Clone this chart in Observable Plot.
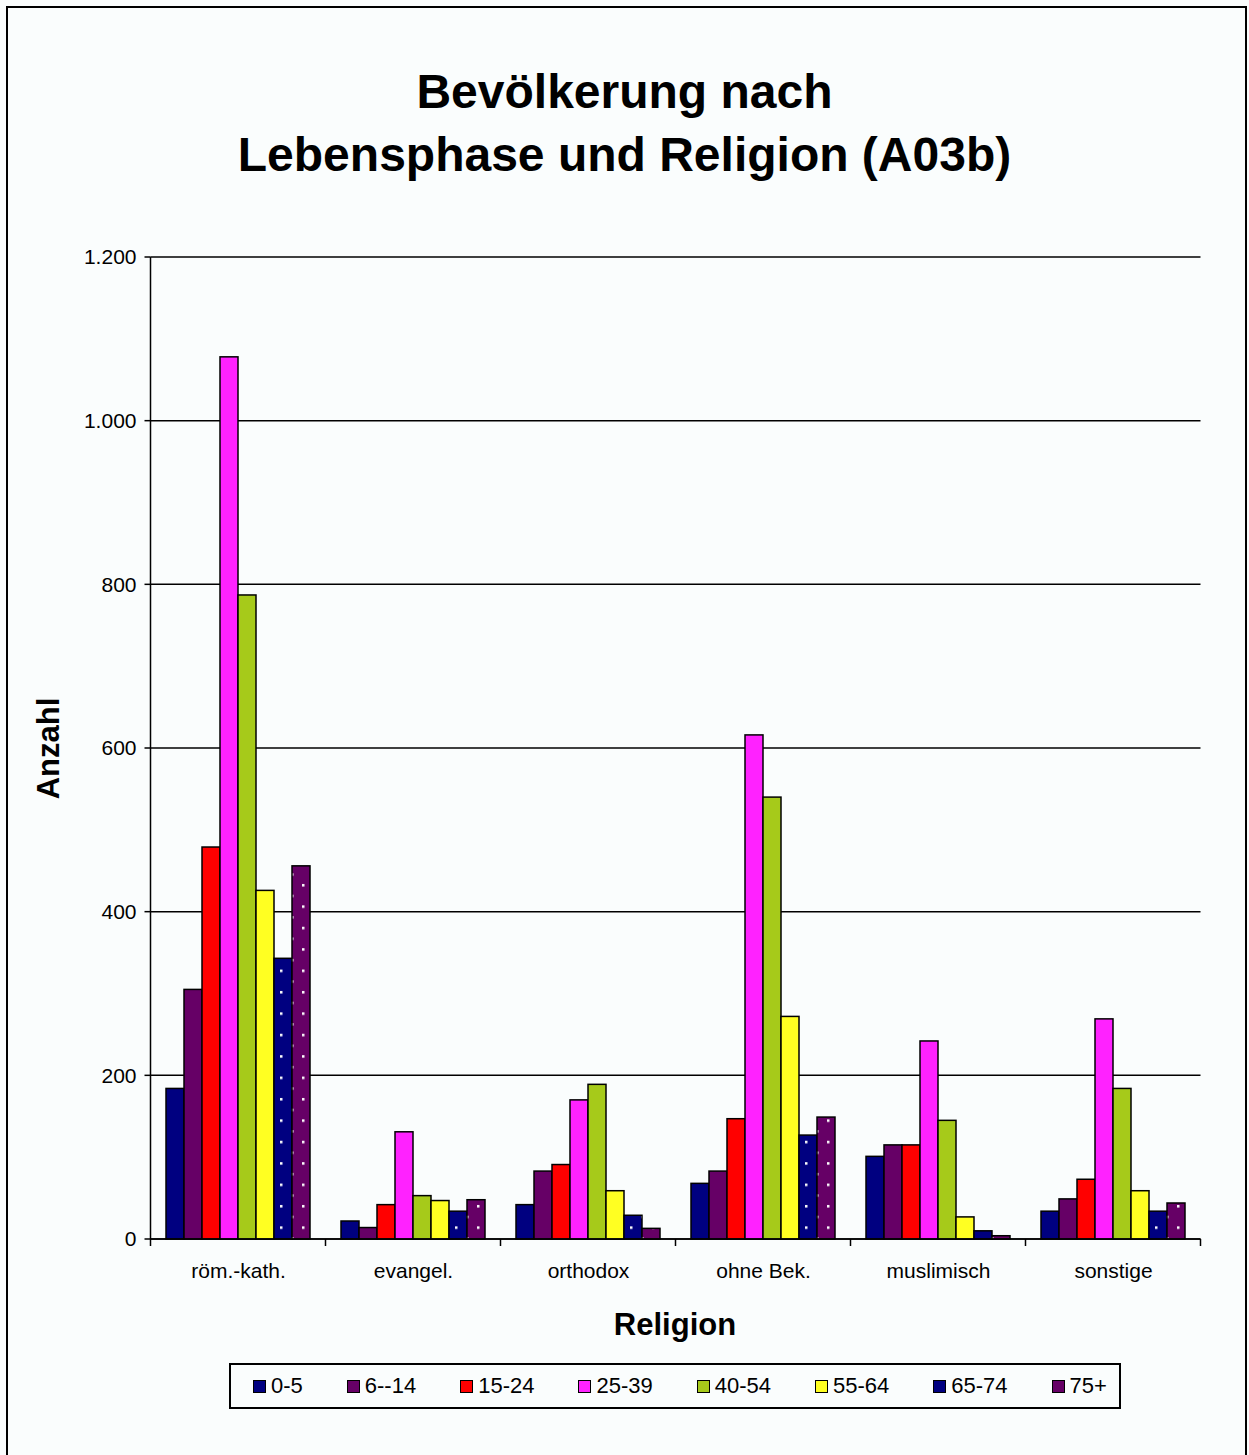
<!DOCTYPE html>
<html>
<head>
<meta charset="utf-8">
<script src="https://cdn.jsdelivr.net/npm/d3@7"></script>
<script src="https://cdn.jsdelivr.net/npm/@observablehq/plot@0.6"></script>
<style>
  body { margin: 0; background: #ffffff; font-family: "Liberation Sans", Arial, sans-serif; }
  #page { position: relative; width: 1249px; height: 1455px; background: #fafdfd; overflow: hidden; }
  #border { position: absolute; left: 6px; top: 6px; width: 1241px; height: 1470px; border: 2px solid #000; box-sizing: border-box; }
  #title { position: absolute; left: 0; top: 60px; width: 1249px; text-align: center; font-weight: bold; font-size: 48px; line-height: 63px; color: #000; }
  #chart { position: absolute; left: 0; top: 240px; }
  #xtitle { position: absolute; left: 149px; width: 1052px; top: 1309px; text-align: center; font-weight: bold; font-size: 31px; line-height: 31px; color: #000; }
  #ytitle { position: absolute; left: -52px; width: 200px; top: 733px; height: 31px; text-align: center; font-weight: bold; font-size: 31px; line-height: 31px; color: #000; transform: rotate(-90deg); }
  #legend { position: absolute; left: 229px; top: 1363px; width: 892px; height: 46px; border: 2px solid #000; box-sizing: border-box;
            display: flex; align-items: center; padding-left: 22px; gap: 44px; font-size: 22px; color: #000; }
  .item { display: flex; align-items: center; }
  .sw { width: 13px; height: 13px; border: 1.5px solid #000; box-sizing: border-box; margin-right: 5px; }
</style>
</head>
<body>
<div id="page">
  <div id="border"></div>
  <div id="title">Bevölkerung nach<br>Lebensphase und Religion (A03b)</div>
  <div id="chart"></div>
  <div id="ytitle">Anzahl</div>
  <div id="xtitle">Religion</div>
  <div id="legend"></div>
</div>
<script>
// ---- Data ----
const religions = ["röm.-kath.", "evangel.", "orthodox", "ohne Bek.", "muslimisch", "sonstige"];
const ageGroups = ["0-5", "6--14", "15-24", "25-39", "40-54", "55-64", "65-74", "75+"];
const age_0_5   = [184, 22, 42, 68, 101, 34];
const age_6_14  = [305, 14, 83, 83, 115, 49];
const age_15_24 = [479, 42, 91, 147, 115, 73];
const age_25_39 = [1078, 131, 170, 616, 242, 269];
const age_40_54 = [787, 53, 189, 540, 145, 184];
const age_55_64 = [426, 47, 59, 272, 27, 59];
const age_65_74 = [343, 34, 29, 127, 10, 34];
const age_75    = [456, 48, 13, 149, 4, 44];
const yTicks = [0, 200, 400, 600, 800, 1000, 1200];

// ---- Styles ----
const solidColors = ["#000080", "#660066", "#ff0000", "#ff22ff", "#a6ca1a", "#ffff22", "#000080", "#660066"];
const barFills = ["#000080", "#660066", "#ff0000", "#ff22ff", "#a6ca1a", "#ffff22", "url(#dotsNavy)", "url(#dotsPurple)"];

const series = [age_0_5, age_6_14, age_15_24, age_25_39, age_40_54, age_55_64, age_65_74, age_75];
const data = [];
religions.forEach((r, i) => ageGroups.forEach((a, j) => data.push({religion: r, age: a, value: series[j][i]})));

const de = d3.formatLocale({decimal: ",", thousands: ".", grouping: [3], currency: ["", " €"]});
const fmt = de.format(",d");

// category boundaries from the fx band scale
function boundaries(fx) {
  const bw = typeof fx.bandwidth === "function" ? fx.bandwidth() : fx.bandwidth;
  const st = typeof fx.step === "function" ? fx.step() : fx.step;
  const half = (st - bw) / 2;
  const b = religions.map(r => fx(r) - half);
  b.push(fx(religions[religions.length - 1]) + bw + half);
  return b;
}

// horizontal gridlines across the whole frame, from the y scale
function gridRender(index, scales) {
  const {y, fx} = scales;
  const b = boundaries(fx);
  const x0 = b[0], x1 = b[b.length - 1];
  const g = d3.create("svg:g").attr("stroke", "#000").attr("stroke-width", 1.5);
  for (const t of yTicks) g.append("line").attr("x1", x0).attr("x2", x1).attr("y1", y(t)).attr("y2", y(t));
  return g.node();
}

// y axis, ticks and category boundary ticks
function axisRender(index, scales) {
  const {y, fx} = scales;
  const b = boundaries(fx);
  const x0 = b[0], x1 = b[b.length - 1];
  const g = d3.create("svg:g").attr("stroke", "#000").attr("stroke-width", 1.5);
  g.append("line").attr("x1", x0).attr("x2", x1).attr("y1", y(0)).attr("y2", y(0));
  g.append("line").attr("x1", x0).attr("x2", x0).attr("y1", y(yTicks[0])).attr("y2", y(yTicks[yTicks.length - 1]));
  for (const t of yTicks) {
    g.append("line").attr("x1", x0 - 6).attr("x2", x0).attr("y1", y(t)).attr("y2", y(t));
    g.append("text").attr("x", x0 - 14).attr("y", y(t)).attr("dy", "0.35em").attr("text-anchor", "end")
      .attr("stroke", "none").attr("fill", "#000").attr("font-size", 21).text(fmt(t));
  }
  for (const xb of b) g.append("line").attr("x1", xb).attr("x2", xb).attr("y1", y(0)).attr("y2", y(0) + 7);
  return g.node();
}

const chart = Plot.plot({
  width: 1249,
  height: 1105,
  marginLeft: 149,
  marginRight: 48,
  marginTop: 17,
  marginBottom: 106,
  style: {background: "transparent", fontFamily: "'Liberation Sans', Arial, sans-serif", fontSize: "21px", color: "#000", overflow: "visible"},
  fx: {domain: religions, paddingInner: 0.143, paddingOuter: 0.0715, label: null},
  x: {domain: ageGroups, padding: 0, axis: null},
  y: {domain: [0, 1200], axis: null},
  color: {domain: ageGroups, range: barFills},
  marks: [
    Plot.frame({facet: "super", stroke: "none", render: gridRender}),
    Plot.barY(data, {fx: "religion", x: "age", y: "value", fill: "age", stroke: "#000", strokeWidth: 1.5}),
    Plot.frame({facet: "super", stroke: "none", render: axisRender}),
    Plot.axisFx({anchor: "bottom", tickSize: 0, tickPadding: 24, fontSize: 21, label: null})
  ]
});

// dotted patterns for the 65-74 and 75+ bars
const defs = d3.select(chart).insert("defs", ":first-child");
[["dotsNavy", "#000080"], ["dotsPurple", "#660066"]].forEach(([id, c]) => {
  const p = defs.append("pattern").attr("id", id).attr("patternUnits", "userSpaceOnUse").attr("width", 22).attr("height", 21.4);
  p.append("rect").attr("width", 22).attr("height", 21.4).attr("fill", c);
  p.append("rect").attr("x", 2).attr("y", 2).attr("width", 2.5).attr("height", 2.5).attr("fill", "#fff");
  p.append("rect").attr("x", 13).attr("y", 12.7).attr("width", 2.5).attr("height", 2.5).attr("fill", "#fff");
});
document.getElementById("chart").appendChild(chart);

// legend
const legend = d3.select("#legend");
ageGroups.forEach((a, j) => {
  const it = legend.append("div").attr("class", "item");
  it.append("div").attr("class", "sw").style("background", solidColors[j]);
  it.append("span").text(a);
});
</script>
</body>
</html>
